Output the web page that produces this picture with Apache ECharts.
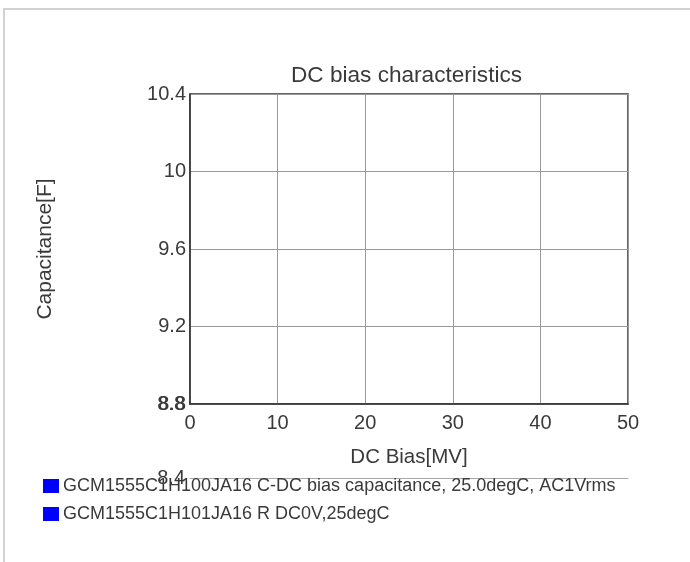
<!DOCTYPE html>
<html>
<head>
<meta charset="utf-8">
<script src="https://cdn.jsdelivr.net/npm/echarts@6/dist/echarts.min.js"></script>
<style>
html,body{margin:0;padding:0;background:#fff;width:690px;height:562px;overflow:hidden;}
#frame{position:absolute;left:3px;top:8px;width:800px;height:700px;border-top:2px solid #cfd2d6;border-left:2px solid #cfd2d6;}
#chart{position:absolute;left:0;top:0;width:690px;height:562px;}
</style>
</head>
<body>
<div id="frame"></div>
<div id="chart"></div>
<script>
const titleText = 'DC bias characteristics';
const xAxisName = 'DC Bias[MV]';
const yAxisName = 'Capacitance[F]';
const xMin = 0, xMax = 50, xStep = 10;
const yMin = 8.8, yMax = 10.4, yStep = 0.4;
const yLowerMin = 8.4;
const seriesNames = [
  'GCM1555C1H100JA16 C-DC bias capacitance, 25.0degC, AC1Vrms',
  'GCM1555C1H101JA16 R DC0V,25degC'
];
const seriesCapacitance = [];
const seriesResistance = [];

const font = '"Liberation Sans", Arial, sans-serif';
const txt = '#3a3a3a';
const fmt = v => String(parseFloat(v.toFixed(1)));
const chart = echarts.init(document.getElementById('chart'));
chart.setOption({
  animation: false,
  backgroundColor: 'transparent',
  textStyle: {fontFamily: font},
  title: {
    text: titleText, left: 286, top: 59,
    textStyle: {fontFamily: font, fontSize: 22.6, fontWeight: 'normal', color: txt}
  },
  legend: {
    orient: 'vertical', left: 38, top: 472, itemGap: 10,
    itemWidth: 16, itemHeight: 14, icon: 'rect',
    textStyle: {fontFamily: font, fontSize: 18, color: txt, padding: [0,0,0,-1]},
    data: seriesNames
  },
  grid: [
    {left: 190, top: 94, width: 438, height: 310, show: true, borderColor: '#333', borderWidth: 1.5},
    {left: 190, top: 404, width: 438, height: 74, show: false}
  ],
  xAxis: [
    {
      type: 'value', gridIndex: 0, min: xMin, max: xMax, interval: xStep,
      name: xAxisName, nameLocation: 'middle', nameGap: 43,
      nameTextStyle: {fontFamily: font, fontSize: 20.5, color: txt},
      axisLine: {show: true, lineStyle: {color: '#333', width: 1.5}},
      axisTick: {show: false},
      axisLabel: {fontFamily: font, fontSize: 20, color: txt, margin: 9},
      splitLine: {show: true, lineStyle: {color: '#999', width: 1}}
    },
    {
      type: 'value', gridIndex: 1, min: xMin, max: xMax, interval: xStep,
      axisLine: {show: true, lineStyle: {color: '#aaa', width: 1}},
      axisTick: {show: false}, axisLabel: {show: false}, splitLine: {show: false}
    }
  ],
  yAxis: [
    {
      type: 'value', gridIndex: 0, min: yMin, max: yMax, interval: yStep,
      name: yAxisName, nameLocation: 'middle', nameGap: 134,
      nameTextStyle: {fontFamily: font, fontSize: 21, color: txt},
      axisLine: {show: true, lineStyle: {color: '#333', width: 1.5}},
      axisTick: {show: false},
      axisLabel: {fontFamily: font, fontSize: 20, color: txt, margin: 4,
        padding: [10, 0, 0, 0], formatter: fmt},
      splitLine: {show: true, lineStyle: {color: '#999', width: 1}}
    },
    {
      type: 'value', gridIndex: 1, min: yLowerMin, max: yMin, interval: yStep,
      axisLine: {show: false}, axisTick: {show: false}, splitLine: {show: false},
      axisLabel: {fontFamily: font, fontSize: 20, color: txt, margin: 5,
        padding: [15, 0, 0, 0], formatter: fmt}
    }
  ],
  series: [
    {name: seriesNames[0], type: 'line', xAxisIndex: 0, yAxisIndex: 0, color: '#0000ff', data: seriesCapacitance},
    {name: seriesNames[1], type: 'line', xAxisIndex: 0, yAxisIndex: 0, color: '#0000ff', data: seriesResistance}
  ]
});
</script>
</body>
</html>
